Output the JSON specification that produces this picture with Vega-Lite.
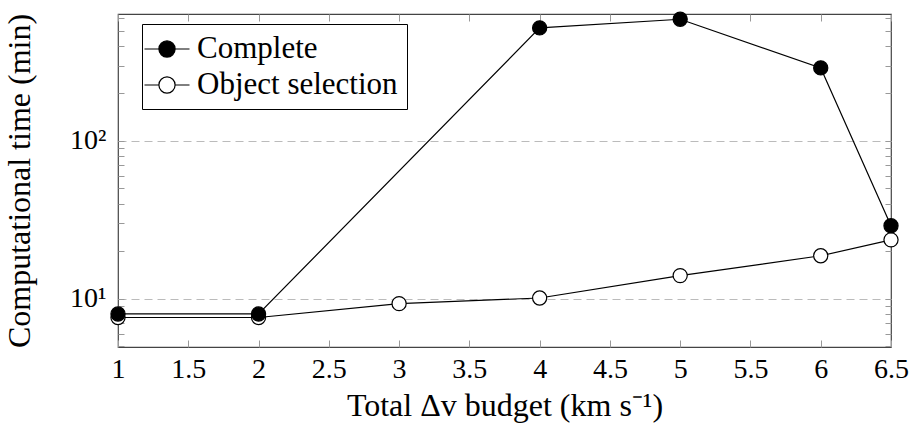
{
  "$schema": "https://vega.github.io/schema/vega-lite/v6.json",
  "autosize": "none",
  "width": 773,
  "height": 333,
  "padding": {"left": 118, "top": 14, "right": 19, "bottom": 83},
  "background": "white",
  "config": {
    "font": "Liberation Serif",
    "view": {"stroke": "#444", "strokeWidth": 1.2},
    "axis": {"domain": false, "tickColor": "#999", "tickWidth": 1, "labelFont": "Liberation Serif", "titleFont": "Liberation Serif", "labelColor": "black", "titleColor": "black", "titleFontWeight": "normal", "labelFontSize": 28, "titleFontSize": 32}
  },
  "data": {"values": [
    {"dv": 1, "time": 8.0, "series": "Complete"},
    {"dv": 2, "time": 8.0, "series": "Complete"},
    {"dv": 4, "time": 520, "series": "Complete"},
    {"dv": 5, "time": 590, "series": "Complete"},
    {"dv": 6, "time": 290, "series": "Complete"},
    {"dv": 6.5, "time": 29, "series": "Complete"},
    {"dv": 1, "time": 7.6, "series": "Object selection"},
    {"dv": 2, "time": 7.6, "series": "Object selection"},
    {"dv": 3, "time": 9.3, "series": "Object selection"},
    {"dv": 4, "time": 10.1, "series": "Object selection"},
    {"dv": 5, "time": 14, "series": "Object selection"},
    {"dv": 6, "time": 18.7, "series": "Object selection"},
    {"dv": 6.5, "time": 23.6, "series": "Object selection"}
  ]},
  "resolve": {"axis": {"x": "independent", "y": "independent"}},
  "layer": [
    {
      "mark": {"type": "line", "color": "black", "strokeWidth": 1.2},
      "encoding": {
        "x": {"field": "dv", "type": "quantitative",
          "scale": {"domain": [1, 6.5], "nice": false, "zero": false},
          "axis": {"orient": "bottom", "values": [1, 1.5, 2, 2.5, 3, 3.5, 4, 4.5, 5, 5.5, 6, 6.5], "format": "~g", "tickSize": -7, "labelPadding": 15, "grid": false, "title": "Total Δv budget (km s⁻¹)", "titlePadding": 7, "labelFlush": false, "labelOverlap": false}},
        "y": {"field": "time", "type": "quantitative",
          "scale": {"type": "log", "domain": [4.94, 637], "nice": false, "zero": false},
          "axis": {"orient": "left", "values": [5, 6, 7, 8, 9, 10, 20, 30, 40, 50, 60, 70, 80, 90, 100, 200, 300, 400, 500, 600],
            "labelExpr": "datum.value == 10 ? '10¹' : datum.value == 100 ? '10²' : ''",
            "tickSize": -6, "labelPadding": 18, "labelOverlap": false, "labelFlush": false,
            "grid": true, "gridColor": "#bbb", "gridDash": [8, 5], "gridWidth": 1,
            "gridOpacity": {"condition": {"test": "datum.value == 10 || datum.value == 100", "value": 1}, "value": 0},
            "title": "Computational time (min)", "titlePadding": 33}},
        "detail": {"field": "series"}
      }
    },
    {
      "transform": [{"filter": "datum.series == 'Object selection'"}],
      "mark": {"type": "point", "filled": true, "stroke": "black", "strokeWidth": 1.2, "size": 200, "opacity": 1},
      "encoding": {
        "x": {"field": "dv", "type": "quantitative",
          "axis": {"orient": "top", "values": [1, 1.5, 2, 2.5, 3, 3.5, 4, 4.5, 5, 5.5, 6, 6.5], "tickSize": -7, "labels": false, "grid": false, "title": null}},
        "y": {"field": "time", "type": "quantitative",
          "axis": {"orient": "right", "values": [5, 6, 7, 8, 9, 10, 20, 30, 40, 50, 60, 70, 80, 90, 100, 200, 300, 400, 500, 600], "tickSize": -6, "labels": false, "grid": false, "title": null}},
        "fill": {"field": "series", "type": "nominal",
          "scale": {"domain": ["Complete", "Object selection"], "range": ["black", "white"]},
          "legend": {"title": null, "orient": "none", "legendX": 24, "legendY": 10,
            "strokeColor": "black", "fillColor": "white", "padding": 9, "rowPadding": 5,
            "symbolType": "M-1.5,0H-0.54M0.54,0H1.5M-0.54,0A0.54,0.54,0,1,1,0.54,0A0.54,0.54,0,1,1,-0.54,0",
            "symbolSize": 900, "symbolStrokeColor": "black", "symbolStrokeWidth": 1.2, "symbolOpacity": 1,
            "labelFontSize": 31, "labelFont": "Liberation Serif", "labelColor": "black", "labelOffset": 14, "labelLimit": 0}}
      }
    },
    {
      "transform": [{"filter": "datum.series == 'Complete'"}],
      "mark": {"type": "point", "filled": true, "stroke": "black", "strokeWidth": 1.2, "size": 200, "opacity": 1},
      "encoding": {
        "x": {"field": "dv", "type": "quantitative", "axis": null},
        "y": {"field": "time", "type": "quantitative", "axis": null},
        "fill": {"field": "series", "type": "nominal"}
      }
    }
  ]
}
